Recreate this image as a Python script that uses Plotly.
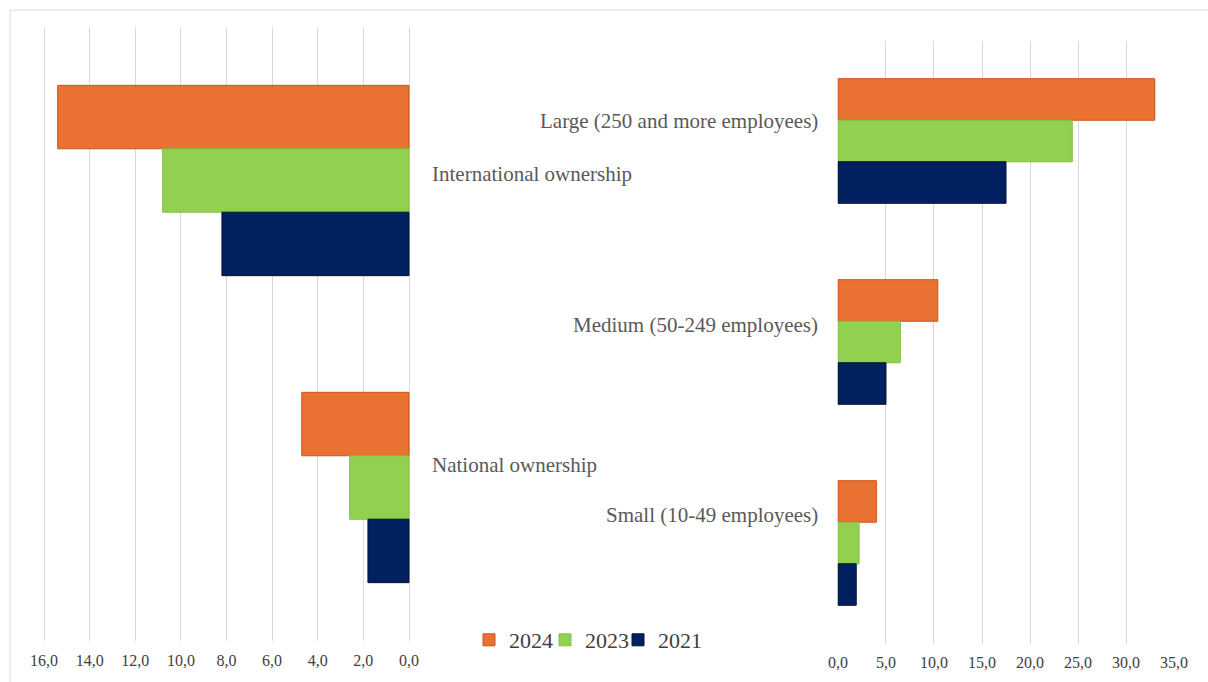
import plotly.graph_objects as go

# ---- data ----
years = ["2024", "2023", "2021"]
own_categories = ["International ownership", "National ownership"]
own_2024 = [15.4, 4.7]
own_2023 = [10.8, 2.6]
own_2021 = [8.2, 1.8]

size_categories = ["Large (250 and more employees)", "Medium (50-249 employees)", "Small (10-49 employees)"]
size_2024 = [33.0, 10.4, 4.0]
size_2023 = [24.4, 6.5, 2.2]
size_2021 = [17.5, 5.0, 1.9]

left_tickvals = [16, 14, 12, 10, 8, 6, 4, 2, 0]
left_ticktext = ["16,0", "14,0", "12,0", "10,0", "8,0", "6,0", "4,0", "2,0", "0,0"]
right_tickvals = [0, 5, 10, 15, 20, 25, 30, 35]
right_ticktext = ["0,0", "5,0", "10,0", "15,0", "20,0", "25,0", "30,0", "35,0"]

colors = {"2024": "#E97132", "2023": "#92D050", "2021": "#002060"}
edges = {"2024": "#C9561A", "2023": "#84C044", "2021": "#0A0F30"}

W, H = 1208, 682
SERIF = "Liberation Serif, Times New Roman, serif"

own_vals = {"2024": own_2024, "2023": own_2023, "2021": own_2021}
size_vals = {"2024": size_2024, "2023": size_2023, "2021": size_2021}
legend_ids = {"2024": "legend", "2023": "legend2", "2021": "legend3"}
legend_text_x = {"2024": 511, "2023": 587, "2021": 660}

fig = go.Figure()
for yr in years:
    fig.add_trace(go.Bar(
        y=own_categories, x=own_vals[yr], orientation="h", name=yr,
        marker=dict(color=colors[yr], line=dict(color=edges[yr], width=1)),
        xaxis="x", yaxis="y", legendgroup=yr, showlegend=True,
        legend=legend_ids[yr],
    ))
for yr in years:
    fig.add_trace(go.Bar(
        y=size_categories, x=size_vals[yr], orientation="h", name=yr,
        marker=dict(color=colors[yr], line=dict(color=edges[yr], width=1)),
        xaxis="x2", yaxis="y2", legendgroup=yr, showlegend=False,
        legend=legend_ids[yr],
    ))

tickfont = dict(family=SERIF, size=16, color="#404040")
labfont = dict(family=SERIF, size=21, color="#595959")

annotations = []
own_shift = [6, 23]
for c, s in zip(own_categories, own_shift):
    annotations.append(dict(x=430 / W, xref="paper", y=c, yref="y", yshift=s,
                            text=c, showarrow=False, xanchor="left", yanchor="middle",
                            font=labfont))
size_shift = [20, 17, 28]
for c, s in zip(size_categories, size_shift):
    annotations.append(dict(x=820 / W, xref="paper", y=c, yref="y2", yshift=s,
                            text=c, showarrow=False, xanchor="right", yanchor="middle",
                            font=labfont))

legend_common = dict(orientation="h", xanchor="left", y=(H - 640) / H, yanchor="middle",
                     font=dict(family=SERIF, size=22, color="#404040"),
                     bgcolor="rgba(0,0,0,0)", itemwidth=30)
legends = {}
for yr in years:
    legends[legend_ids[yr]] = dict(legend_common, x=(legend_text_x[yr] - 42) / W)

fig.update_layout(
    width=W, height=H,
    margin=dict(l=0, r=0, t=0, b=0, autoexpand=False),
    paper_bgcolor="white", plot_bgcolor="white",
    barmode="group", bargap=0.38, bargroupgap=0,
    xaxis=dict(domain=[42.86 / W, 410.14 / W], range=[16.05, -0.05], tickvals=left_tickvals,
               ticktext=left_ticktext, showgrid=True, gridcolor="#D9D9D9", gridwidth=1,
               zeroline=False, showline=False, tickfont=tickfont, anchor="y",
               ticklabelstandoff=8, automargin=False),
    yaxis=dict(domain=[(H - 641) / H, (H - 27) / H], autorange="reversed",
               showticklabels=False, showgrid=False, zeroline=False, anchor="x",
               automargin=False),
    xaxis2=dict(domain=[837.5 / W, 1174.5 / W], range=[-0.05, 35.05], tickvals=right_tickvals,
                ticktext=right_ticktext, showgrid=True, gridcolor="#D9D9D9", gridwidth=1,
                zeroline=False, showline=False, tickfont=tickfont, anchor="y2",
                ticklabelstandoff=7, automargin=False),
    yaxis2=dict(domain=[(H - 643.5) / H, (H - 40.5) / H], autorange="reversed",
                showticklabels=False, showgrid=False, zeroline=False, anchor="x2",
                automargin=False),
    annotations=annotations,
    shapes=[dict(type="rect", xref="paper", yref="paper", x0=10 / W, x1=1.01,
                 y0=-0.01, y1=(H - 10) / H, line=dict(color="#D9D9D9", width=1),
                 layer="below")],
    showlegend=True,
    **legends,
)

fig.write_html("out.html")
